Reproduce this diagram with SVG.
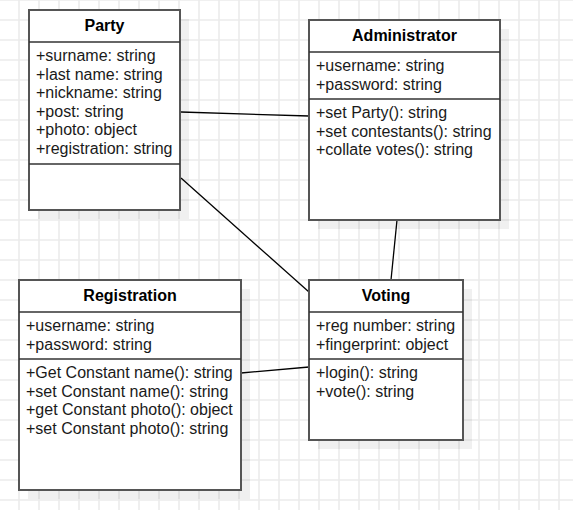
<svg xmlns="http://www.w3.org/2000/svg" width="573" height="510" viewBox="0 0 573 510">
<style>
.box{fill:#fff;stroke:#555;stroke-width:2}
.shadow{fill:#000;fill-opacity:0.06}
.sep{stroke:#333;stroke-width:1.3}
.t{font-family:"Liberation Sans",Arial,sans-serif;font-size:16px;fill:#1a1a1a}
.h{font-family:"Liberation Sans",Arial,sans-serif;font-size:16px;font-weight:bold;fill:#000;text-anchor:middle}
.conn{stroke:#000;stroke-width:1.3;fill:none}
</style>
<defs>
<pattern id="grid" width="20" height="20" patternUnits="userSpaceOnUse" x="18" y="-1">
<path d="M0 1H20M1 0V20" stroke="#ebebeb" stroke-width="1.6" fill="none"/>
</pattern>
</defs>
<rect width="573" height="510" fill="#fff"/>
<rect width="573" height="510" fill="url(#grid)"/>
<g id="connectors">
<path class="conn" d="M181 112L309 116"/>
<path class="conn" d="M181 178L309 292"/>
<path class="conn" d="M397 220L391 280"/>
<path class="conn" d="M241 373L309 367"/>
</g>
<g id="party">
<rect class="shadow" x="38" y="19" width="151" height="200"/>
<rect class="box" x="29" y="10" width="151" height="200"/>
<line class="sep" x1="29" y1="42" x2="180" y2="42"/>
<line class="sep" x1="29" y1="164" x2="180" y2="164"/>
<text class="h" x="104.5" y="31">Party</text>
<text class="t" x="36" y="61">+surname: string</text>
<text class="t" x="36" y="79.5">+last name: string</text>
<text class="t" x="36" y="98">+nickname: string</text>
<text class="t" x="36" y="116.5">+post: string</text>
<text class="t" x="36" y="135">+photo: object</text>
<text class="t" x="36" y="153.5">+registration: string</text>
</g>
<g id="administrator">
<rect class="shadow" x="318" y="29" width="191" height="200"/>
<rect class="box" x="309" y="20" width="191" height="200"/>
<line class="sep" x1="309" y1="52" x2="500" y2="52"/>
<line class="sep" x1="309" y1="99" x2="500" y2="99"/>
<text class="h" x="404.5" y="41">Administrator</text>
<text class="t" x="316" y="71">+username: string</text>
<text class="t" x="316" y="89.5">+password: string</text>
<text class="t" x="316" y="118">+set Party(): string</text>
<text class="t" x="316" y="136.5">+set contestants(): string</text>
<text class="t" x="316" y="155">+collate votes(): string</text>
</g>
<g id="registration">
<rect class="shadow" x="28" y="289" width="222" height="210"/>
<rect class="box" x="19" y="280" width="222" height="210"/>
<line class="sep" x1="19" y1="312" x2="241" y2="312"/>
<line class="sep" x1="19" y1="359" x2="241" y2="359"/>
<text class="h" x="130" y="301">Registration</text>
<text class="t" x="26" y="331">+username: string</text>
<text class="t" x="26" y="349.5">+password: string</text>
<text class="t" x="26" y="378">+Get Constant name(): string</text>
<text class="t" x="26" y="396.5">+set Constant name(): string</text>
<text class="t" x="26" y="415">+get Constant photo(): object</text>
<text class="t" x="26" y="433.5">+set Constant photo(): string</text>
</g>
<g id="voting">
<rect class="shadow" x="318" y="289" width="154" height="160"/>
<rect class="box" x="309" y="280" width="154" height="160"/>
<line class="sep" x1="309" y1="312" x2="463" y2="312"/>
<line class="sep" x1="309" y1="359" x2="463" y2="359"/>
<text class="h" x="386" y="301">Voting</text>
<text class="t" x="316" y="331">+reg number: string</text>
<text class="t" x="316" y="349.5">+fingerprint: object</text>
<text class="t" x="316" y="378">+login(): string</text>
<text class="t" x="316" y="396.5">+vote(): string</text>
</g>
</svg>
